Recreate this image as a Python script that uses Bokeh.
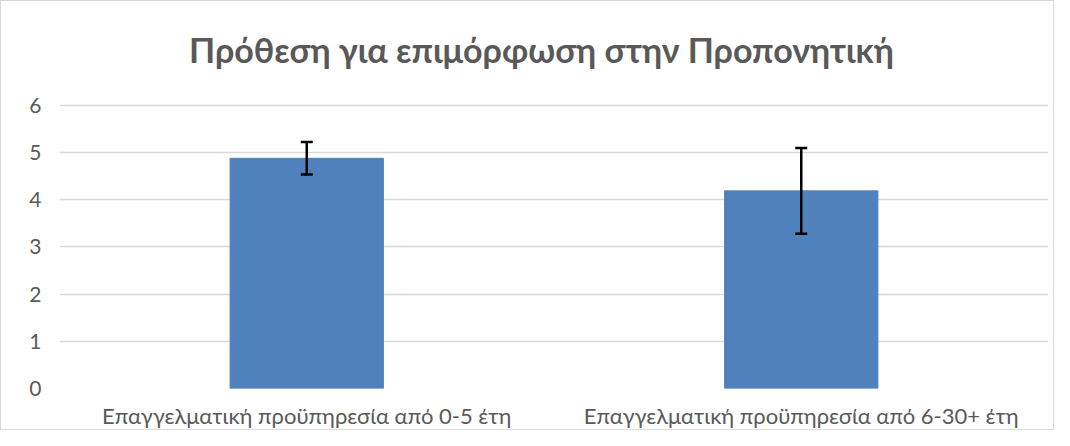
from bokeh.plotting import figure
from bokeh.models import ColumnDataSource, Whisker, TeeHead, FixedTicker, Label
from bokeh.embed import file_html
from bokeh.resources import INLINE

title_text = "Πρόθεση για επιμόρφωση στην Προπονητική"
categories = ["Επαγγελματική προϋπηρεσία από 0-5 έτη", "Επαγγελματική προϋπηρεσία από 6-30+ έτη"]
means = [4.88, 4.19]
errors = [0.345, 0.91]
y_ticks = [0, 1, 2, 3, 4, 5, 6]

src = ColumnDataSource(dict(
    cat=categories, mean=means,
    upper=[m + e for m, e in zip(means, errors)],
    lower=[m - e for m, e in zip(means, errors)],
))

# the frame extends above 6 to leave room for the title inside it (no gridlines above 6)
p = figure(x_range=categories, y_range=(0, 8.035), width=1054, height=430,
           output_backend="svg", toolbar_location=None,
           min_border_left=58, min_border_right=7, min_border_top=8, min_border_bottom=34)

p.vbar(x="cat", top="mean", width=0.31, source=src, color="#4f81bd")
w = Whisker(base="cat", upper="upper", lower="lower", source=src, level="overlay",
            line_color="black", line_width=2.5,
            upper_head=TeeHead(size=12, line_color="black", line_width=2.5),
            lower_head=TeeHead(size=12, line_color="black", line_width=2.5))
p.add_layout(w)

title = Label(x=482, y=7.19, x_units="screen", y_units="data", text=title_text,
              text_align="center", text_baseline="middle", text_font="Lato",
              text_font_size="34px", text_font_style="bold", text_color="#595959")
p.add_layout(title)

p.yaxis.ticker = FixedTicker(ticks=y_ticks)
for ax in (p.xaxis, p.yaxis):
    ax.axis_line_color = None
    ax.major_tick_line_color = None
    ax.minor_tick_line_color = None
    ax.major_label_text_font = "Lato"
    ax.major_label_text_font_size = "21px"
    ax.major_label_text_color = "#595959"
p.xaxis.major_label_text_font_size = "22px"
p.yaxis.major_label_standoff = 12
p.xaxis.major_label_standoff = 7
p.xgrid.grid_line_color = None
p.ygrid.grid_line_color = "#d9d9d9"
p.ygrid.grid_line_width = 1.3
p.outline_line_color = None
p.styles = {"border": "1px solid #d9d9d9"}

open("out.html", "w").write(file_html(p, INLINE))
